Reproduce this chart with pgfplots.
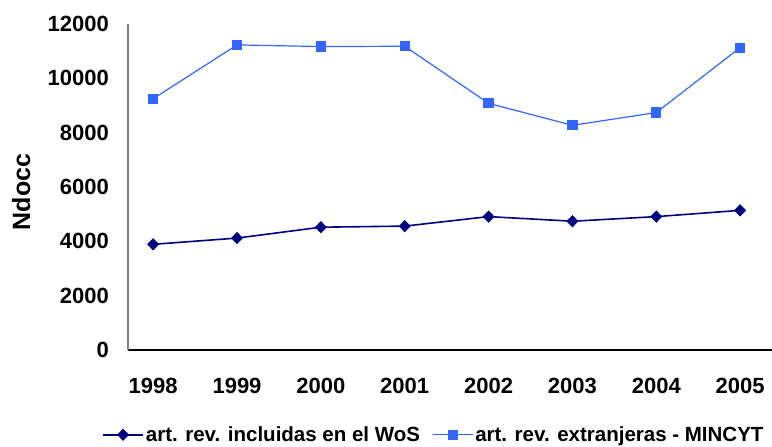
\documentclass[border=0pt]{standalone}
\usepackage{pgfplots}
\pgfplotsset{compat=1.18}
\usepackage{fontspec}
\setmainfont{Liberation Sans}
\definecolor{navy}{RGB}{0,0,128}
\definecolor{lblue}{RGB}{51,102,255}
\begin{document}
\begin{tikzpicture}
\useasboundingbox (-128pt,-97pt) rectangle (644pt,350pt);
\begin{axis}[
  scale only axis, width=644pt, height=326pt,
  xmin=-0.3, xmax=7.38, ymin=0, ymax=12000,
  axis x line=bottom, axis y line=left,
  x axis line style={black, line width=1.2pt, -},
  y axis line style={gray, line width=1.2pt, -},
  xtick={0,...,7}, xticklabels={1998,1999,2000,2001,2002,2003,2004,2005},
  ytick={0,2000,...,12000},
  scaled y ticks=false,
  major tick length=0pt,
  /pgf/number format/assume math mode=true,
  /pgf/number format/1000 sep={},
  tick label style={font=\bfseries\fontsize{22}{22}\selectfont},
  yticklabel style={inner sep=0pt, xshift=-19pt},
  xticklabel style={inner sep=0pt, yshift=-28pt},
  ylabel={Ndocc},
  ylabel style={font=\bfseries\fontsize{25}{25}\selectfont, at={(axis description cs:-0.166,0.485)}, anchor=center},
  legend columns=2,
  legend style={draw=none, at={(axis description cs:0.475,-0.26)}, anchor=center,
    font=\bfseries\fontsize{20.5}{20.5}\selectfont,
    /tikz/every even column/.append style={column sep=10pt}},
  legend image code/.code={\draw[mark repeat=2,mark phase=2] plot coordinates {(0pt,0pt)(20pt,0pt)(40pt,0pt)};},
  clip=false,
]
\addplot[navy, line width=1.6pt, mark=diamond*, mark size=5pt, mark options={xscale=1.3}] coordinates {
(0,3890) (1,4120) (2,4520) (3,4560) (4,4910) (5,4740) (6,4910) (7,5140)};
\addlegendentry{art. rev. incluidas en el WoS}
\addplot[lblue, line width=1.2pt, mark=square*, mark size=4.5pt] coordinates {
(0,9250) (1,11230) (2,11170) (3,11180) (4,9080) (5,8270) (6,8740) (7,11130)};
\addlegendentry{art. rev. extranjeras - MINCYT}
\end{axis}
\end{tikzpicture}
\end{document}
